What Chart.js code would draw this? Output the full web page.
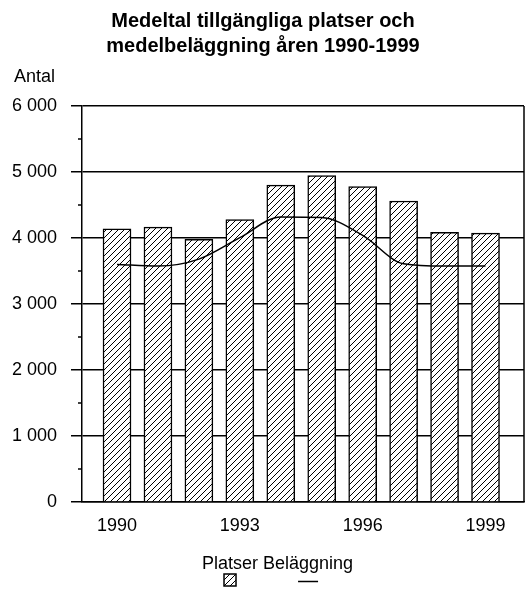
<!DOCTYPE html>
<html>
<head>
<meta charset="utf-8">
<script src="https://cdn.jsdelivr.net/npm/chart.js@4"></script>
<style>
html, body { margin: 0; padding: 0; background: #fff; }
</style>
</head>
<body>
<canvas id="myChart" width="526" height="589"></canvas>
<script>
// data
const years = [1990, 1991, 1992, 1993, 1994, 1995, 1996, 1997, 1998, 1999];
const platser = [4140, 4165, 3980, 4280, 4800, 4945, 4780, 4560, 4085, 4075];
const belaggning = [3600, 3575, 3680, 4005, 4320, 4310, 4040, 3610, 3575, 3575];
const yearTicks = [1990, 1993, 1996, 1999];
const titleLines = ["Medeltal tillgängliga platser och", "medelbeläggning åren 1990-1999"];
const yTitle = "Antal";

const FONT = "'Liberation Sans', Arial, sans-serif";

function hatch() {
    const c = document.createElement("canvas")
    c.width = 6
    c.height = 6
    const g = c.getContext("2d")
    g.fillStyle = "#fff"
    g.fillRect(0, 0, 6, 6)
    g.strokeStyle = "#000"
    g.lineWidth = 1
    g.beginPath()
    g.moveTo(0, 6); g.lineTo(6, 0)
    g.moveTo(-1, 1); g.lineTo(1, -1)
    g.moveTo(5, 7); g.lineTo(7, 5)
    g.stroke()
    return g.createPattern(c, "repeat")
}

function fmt(v) {
    return String(v).replace(/\B(?=(\d{3})+(?!\d))/g, " ")
}

const decor = {
    id: "decor",
    afterDraw(chart) {
        const c = chart.ctx
        const a = chart.chartArea
        const ys = chart.scales.y
        c.save()
        // right frame line
        c.strokeStyle = "#000"
        c.lineWidth = 1.5
        c.beginPath()
        c.moveTo(a.right, a.top)
        c.lineTo(a.right, a.bottom)
        c.stroke()
        // minor ticks
        for (let v = 500; v < 6000; v += 1000) {
            const py = ys.getPixelForValue(v)
            c.beginPath()
            c.moveTo(a.left - 4, py)
            c.lineTo(a.left, py)
            c.stroke()
        }
        // title
        c.fillStyle = "#000"
        c.textAlign = "center"
        c.textBaseline = "alphabetic"
        c.font = "bold 20px " + FONT
        titleLines.forEach((t, i) => c.fillText(t, chart.width / 2, 27 + i * 25))
        // y title
        c.font = "18px " + FONT
        c.textAlign = "left"
        c.fillText(yTitle, 14, 82)
        // legend
        const d = chart.data.datasets
        const bar = d[1], line = d[0]
        const gap = c.measureText(" ").width
        const w1 = c.measureText(bar.label).width
        const w2 = c.measureText(line.label).width
        let x = 202
        c.fillText(bar.label, x, 569)
        const cx1 = x + w1 / 2
        c.fillStyle = bar.backgroundColor
        c.fillRect(cx1 - 6, 574, 12, 12)
        c.lineWidth = 1.5
        c.strokeRect(cx1 - 6, 574, 12, 12)
        x += w1 + gap
        c.fillStyle = "#000"
        c.fillText(line.label, x, 569)
        const cx2 = x + w2 / 2
        c.beginPath()
        c.moveTo(cx2 - 10, 581.5)
        c.lineTo(cx2 + 10, 581.5)
        c.stroke()
        c.restore()
    }
}

const ctx = document.getElementById("myChart")

const myChart = new Chart(ctx, {
    type: "bar",
    data: {
        datasets: [{
            type: "line",
            label: "Beläggning",
            data: years.map((y, i) => ({ x: y, y: belaggning[i] })),
            borderColor: "#000",
            borderWidth: 1.5,
            pointRadius: 0,
            cubicInterpolationMode: "monotone",
            order: 0
        }, {
            label: "Platser",
            data: years.map((y, i) => ({ x: y, y: platser[i] })),
            backgroundColor: hatch(),
            borderColor: "#000",
            borderWidth: 1.5,
            barThickness: 28,
            order: 1
        }]
    },
    options: {
        responsive: false,
        animation: false,
        layout: { padding: { top: 106, left: 0, right: 2, bottom: 0 } },
        plugins: {
            legend: { display: false },
            title: { display: false },
            tooltip: { enabled: false }
        },
        scales: {
            x: {
                type: "linear",
                min: 1989.145,
                max: 1999.94,
                offset: false,
                afterBuildTicks: s => { s.ticks = yearTicks.map(v => ({ value: v })) },
                afterFit: s => { s.height = 87 },
                grid: { display: false, drawTicks: false, offset: false },
                border: { color: "#000", width: 1.5 },
                ticks: {
                    padding: 13,
                    color: "#000",
                    font: { size: 18, family: FONT },
                    callback: v => String(v),
                    maxRotation: 0
                }
            },
            y: {
                min: 0,
                max: 6000,
                afterFit: s => { s.width = 82 },
                border: { color: "#000", width: 1.5 },
                grid: {
                    color: c => (c.tick && c.tick.value % 1000 === 0) ? "#000" : "rgba(0,0,0,0)",
                    tickColor: c => (c.tick && c.tick.value % 1000 === 0) ? "#000" : "rgba(0,0,0,0)",
                    lineWidth: 1.5,
                    tickLength: 11
                },
                ticks: {
                    stepSize: 500,
                    padding: 14,
                    color: "#000",
                    font: { size: 18, family: FONT },
                    callback: v => v % 1000 === 0 ? fmt(v) : ""
                }
            }
        }
    },
    plugins: [decor]
});
</script>
</body>
</html>
